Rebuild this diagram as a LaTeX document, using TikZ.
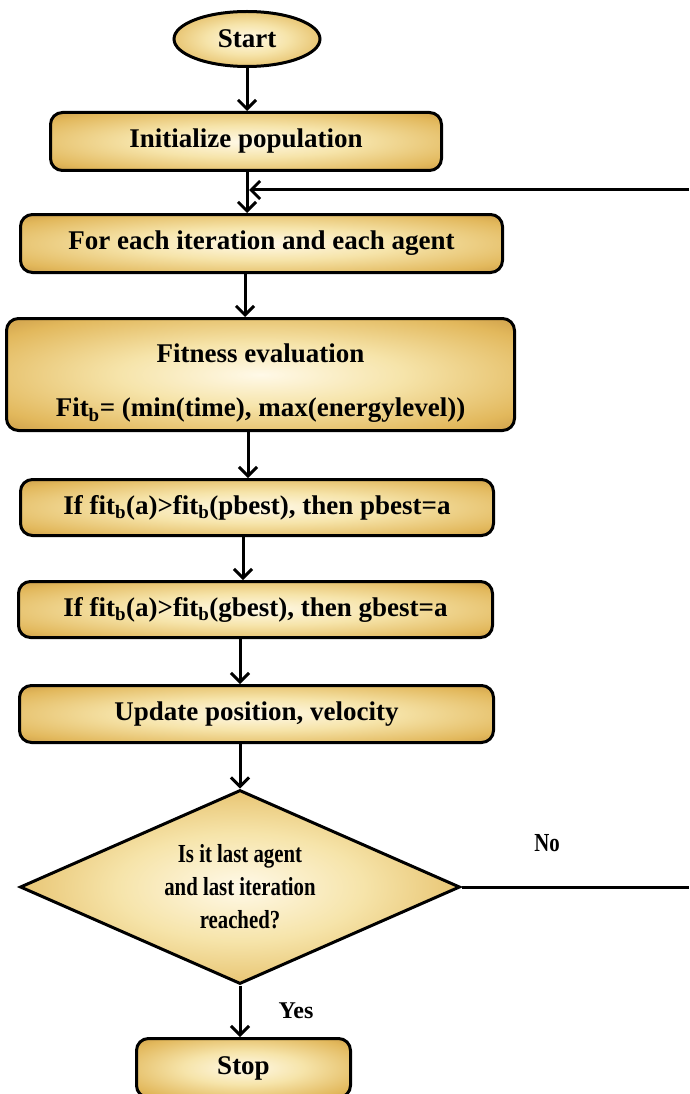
\documentclass[tikz,border=0pt]{standalone}
\usepackage{fontspec}
\setmainfont{Liberation Serif}
\newfontfamily\condfont{Liberation Serif}[FakeStretch=0.8]
\usetikzlibrary{shapes.geometric,arrows.meta}
\definecolor{boxin}{HTML}{FFF9E8}
\definecolor{boxa}{HTML}{F6E4AA}
\definecolor{boxb}{HTML}{E2B85C}
\definecolor{boxc}{HTML}{B88436}
\definecolor{boxout}{HTML}{8A5A20}
\pgfdeclareradialshading{parch}{\pgfpoint{0bp}{0bp}}{color(0bp)=(boxin); color(14bp)=(boxa); color(30bp)=(boxb); color(42bp)=(boxc); color(50bp)=(boxout)}
\begin{document}
\begin{tikzpicture}[x=1pt,y=-1pt,
  box/.style={draw=black, line width=3pt, rounded corners=12pt, shading=parch,
    font=\bfseries\fontsize{27}{32}\selectfont, align=center, inner sep=0pt},
  dia/.style={draw=black, line width=3pt, diamond, aspect=2.24, shading=parch,
    font=\condfont\bfseries\fontsize{26}{33}\selectfont, align=center, inner sep=0pt},
  arr/.style={line width=3pt, -{Straight Barb[length=9pt,width=18pt,line width=3pt]}},
  lbl/.style={font=\bfseries\fontsize{24}{28}\selectfont},
  clbl/.style={font=\condfont\bfseries\fontsize{26}{28}\selectfont}]
\useasboundingbox (0,0) rectangle (689,1094);
\node[box, ellipse, minimum width=146pt, minimum height=55pt] (start) at (247,39) {Start};
\node[box, minimum width=391pt, minimum height=58pt] (init) at (246,141.5) {Initialize population};
\node[box, minimum width=482pt, minimum height=58pt] (iter) at (261.5,243.5) {For each iteration and each agent};
\node[box, minimum width=508pt, minimum height=112pt] (fit) at (260.5,374.5) {\rule{0pt}{36pt}Fitness evaluation\\[22pt]Fit\textsubscript{b}= (min(time), max(energylevel))};
\node[box, minimum width=473pt, minimum height=56pt] (pb) at (257,507.5) {If fit\textsubscript{b}(a)>fit\textsubscript{b}(pbest), then pbest=a};
\node[box, minimum width=474pt, minimum height=56pt] (gb) at (255.5,609.5) {If fit\textsubscript{b}(a)>fit\textsubscript{b}(gbest), then gbest=a};
\node[box, minimum width=474pt, minimum height=57pt] (up) at (256.5,714) {Update position, velocity};
\node[dia, minimum width=440pt, minimum height=194pt] (dec) at (240,887) {Is it last agent\\and last iteration\\reached?};
\node[box, minimum width=214pt, minimum height=59pt] (stop) at (243.5,1068) {Stop};
\node[clbl] (no) at (547,843) {No};
\node[lbl] (yes) at (296,1011) {Yes};
\coordinate (r1) at (689,887);
\coordinate (r2) at (689,190);
\coordinate (m) at (249,190);
\draw[arr] (start.south) -- (init.north -| start.south);
\draw[arr] (init.south -| start.south) -- (iter.north -| start.south);
\draw[arr] (r2) -- (m);
\draw[arr] (iter.south -| 245,0) -- (fit.north -| 245,0);
\draw[arr] (fit.south -| 248,0) -- (pb.north -| 248,0);
\draw[arr] (pb.south -| 243,0) -- (gb.north -| 243,0);
\draw[arr] (gb.south -| 240,0) -- (up.north -| 240,0);
\draw[arr] (up.south -| dec.north) -- (dec.north);
\draw[line width=3pt] (dec.east) -- (r1);
\draw[arr] (dec.south -| 240,0) -- (stop.north -| 240,0);
\end{tikzpicture}
\end{document}
